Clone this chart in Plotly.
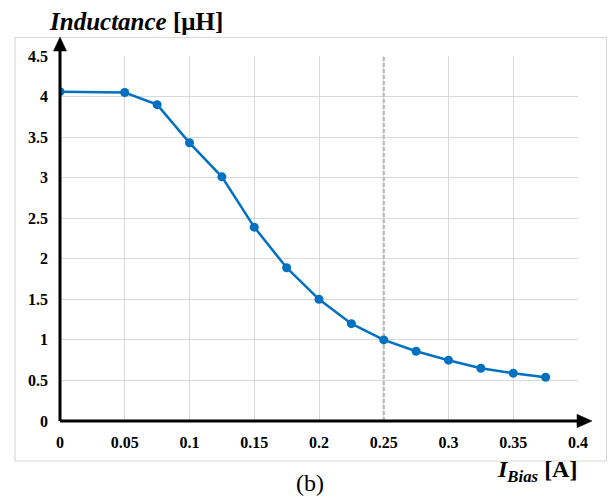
import plotly.graph_objects as go

# Bias current [A] and measured inductance [uH]
i_bias = [0, 0.05, 0.075, 0.1, 0.125, 0.15, 0.175, 0.2, 0.225, 0.25,
          0.275, 0.3, 0.325, 0.35, 0.375]
inductance = [4.06, 4.05, 3.90, 3.43, 3.01, 2.39, 1.89, 1.50, 1.20, 1.00,
              0.86, 0.75, 0.65, 0.59, 0.54]

x_ticks = [0, 0.05, 0.1, 0.15, 0.2, 0.25, 0.3, 0.35, 0.4]
x_tick_text = ["0", "0.05", "0.1", "0.15", "0.2", "0.25", "0.3", "0.35", "0.4"]
y_ticks = [0, 0.5, 1, 1.5, 2, 2.5, 3, 3.5, 4, 4.5]
y_tick_text = ["0", "0.5", "1", "1.5", "2", "2.5", "3", "3.5", "4", "4.5"]
marker_line_x = 0.25

W, H = 613, 500
L, R, T, B = 60, 35, 56, 79
PW, PH = W - L - R, H - T - B


def px(xp):
    return (xp - L) / PW


def py(yp):
    return (H - B - yp) / PH


SERIF = "Liberation Serif"
BLUE = "#0070C0"
GRID = "#d9d9d9"

fig = go.Figure()
fig.add_trace(go.Scatter(
    x=i_bias, y=inductance, mode="lines+markers",
    line=dict(color=BLUE, width=2.5),
    marker=dict(color=BLUE, size=9),
    showlegend=False, hoverinfo="skip",
))

tickfont = dict(family=SERIF, size=16, color="black", weight="bold")
fig.update_xaxes(
    range=[0, 0.4], tickvals=x_ticks, ticktext=x_tick_text,
    showgrid=True, gridcolor=GRID, gridwidth=1, zeroline=False,
    showline=False, ticks="", tickfont=tickfont, ticklabelstandoff=10,
)
fig.update_yaxes(
    range=[0, 4.5], tickvals=y_ticks, ticktext=y_tick_text,
    showgrid=True, gridcolor=GRID, gridwidth=1, zeroline=False,
    showline=False, ticks="", tickfont=tickfont, ticklabelstandoff=11,
)

shapes = [
    # outer frame
    dict(type="rect", xref="paper", yref="paper",
         x0=px(15), x1=px(606.5), y0=py(461), y1=py(37.5),
         line=dict(color=GRID, width=1.2), layer="below"),
    # dashed reference line
    dict(type="line", xref="x", yref="y", x0=marker_line_x, x1=marker_line_x,
         y0=0, y1=4.5, line=dict(color="#bfbfbf", width=2.5, dash="4px,2px"),
         layer="between"),
    # y axis with arrow
    dict(type="line", xref="paper", yref="paper", x0=0, x1=0, y0=0, y1=py(50),
         line=dict(color="black", width=3), layer="above"),
    dict(type="path", xref="paper", yref="paper",
         path=f"M {px(53.5)} {py(51)} L {px(60)} {py(37)} L {px(66.5)} {py(51)} Z",
         fillcolor="black", line=dict(color="black", width=0.5), layer="above"),
    # x axis with arrow
    dict(type="line", xref="paper", yref="paper", x0=0, x1=px(578), y0=0, y1=0,
         line=dict(color="black", width=3), layer="above"),
    dict(type="path", xref="paper", yref="paper",
         path=f"M {px(577)} {py(414.3)} L {px(592)} {py(421)} L {px(577)} {py(427.7)} Z",
         fillcolor="black", line=dict(color="black", width=0.5), layer="above"),
]

annotations = [
    dict(text="<b><i>Inductance</i> [μH]</b>", xref="paper", yref="paper",
         x=px(47), y=py(22), xanchor="left", yanchor="middle", showarrow=False,
         font=dict(family=SERIF, size=25, color="black")),
    dict(text="<b><i>I<sub>Bias</sub></i> [A]</b>", xref="paper", yref="paper",
         x=px(579), y=py(471), xanchor="right", yanchor="middle", showarrow=False,
         font=dict(family=SERIF, size=24, color="black")),
    dict(text="(b)", xref="paper", yref="paper",
         x=px(310), y=py(483), xanchor="center", yanchor="middle", showarrow=False,
         font=dict(family=SERIF, size=24, color="black")),
]

fig.update_layout(
    width=W, height=H, margin=dict(l=L, r=R, t=T, b=B),
    paper_bgcolor="white", plot_bgcolor="white",
    shapes=shapes, annotations=annotations,
)

fig.write_html("out.html")
